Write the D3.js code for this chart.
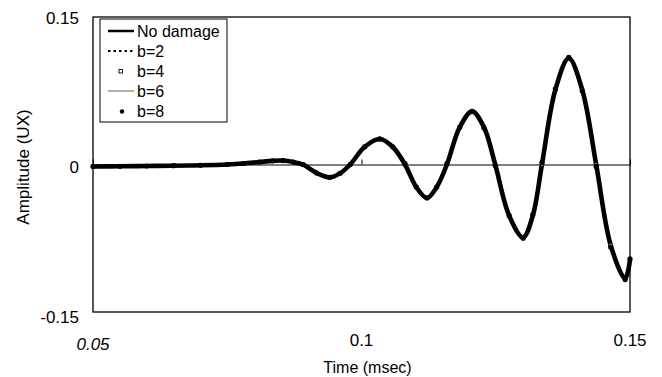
<!DOCTYPE html>
<html><head><meta charset="utf-8">
<script src="https://cdn.jsdelivr.net/npm/d3@7"></script>
<style>body{margin:0;background:#fff}svg{display:block}text{font-family:"Liberation Sans",Arial,sans-serif;fill:#000}</style>
</head><body><div id="chart"></div>
<script>
const times = [0.050,0.055,0.060,0.065,0.070,0.075,0.078,0.081,0.0835,0.0854,0.0873,0.0891,0.0916,0.0941,0.0960,0.0979,0.1006,0.1034,0.1058,0.1081,0.1102,0.1122,0.1140,0.1159,0.1183,0.1206,0.1228,0.1249,0.1275,0.1301,0.1319,0.1336,0.1361,0.1386,0.1411,0.1437,0.1464,0.1491,0.1500];
const noDamage = [-0.002,-0.0018,-0.0015,-0.0012,-0.0008,0.000,0.001,0.0025,0.0037,0.004,0.0025,0.000,-0.0085,-0.013,-0.009,0.000,0.018,0.026,0.018,0.000,-0.023,-0.034,-0.023,0.000,0.038,0.054,0.038,0.000,-0.052,-0.074,-0.052,0.000,0.076,0.108,0.076,0.000,-0.082,-0.116,-0.097];
const b2 = [-0.002,-0.0018,-0.0015,-0.0012,-0.0008,0.000,0.001,0.0025,0.0037,0.004,0.0025,0.000,-0.0085,-0.013,-0.009,0.000,0.018,0.026,0.018,0.000,-0.023,-0.034,-0.023,0.000,0.038,0.054,0.038,0.000,-0.052,-0.074,-0.052,0.000,0.076,0.108,0.076,0.000,-0.082,-0.116,-0.097];
const b4 = [-0.002,-0.0018,-0.0015,-0.0012,-0.0008,0.000,0.001,0.0025,0.0037,0.004,0.0025,0.000,-0.0085,-0.013,-0.009,0.000,0.018,0.026,0.018,0.000,-0.023,-0.034,-0.023,0.000,0.038,0.054,0.038,0.000,-0.052,-0.074,-0.052,0.000,0.076,0.108,0.076,0.000,-0.082,-0.116,-0.097];
const b6 = [-0.002,-0.0018,-0.0015,-0.0012,-0.0008,0.000,0.001,0.0025,0.0037,0.004,0.0025,0.000,-0.0085,-0.013,-0.009,0.000,0.018,0.026,0.018,0.000,-0.023,-0.034,-0.023,0.000,0.038,0.054,0.038,0.000,-0.052,-0.074,-0.052,0.000,0.076,0.108,0.076,0.000,-0.082,-0.116,-0.097];
const b8 = [-0.002,-0.0018,-0.0015,-0.0012,-0.0008,0.000,0.001,0.0025,0.0037,0.004,0.0025,0.000,-0.0085,-0.013,-0.009,0.000,0.018,0.026,0.018,0.001,-0.023,-0.034,-0.023,0.001,0.038,0.054,0.037,-0.001,-0.052,-0.075,-0.051,0.002,0.077,0.109,0.075,-0.002,-0.084,-0.117,-0.096];
const seriesNames = ["No damage","b=2","b=4","b=6","b=8"];
const xTicks = [0.05,0.1,0.15];
const xTickLabels = ["0.05","0.1","0.15"];
const yTicks = [-0.15,0,0.15];
const yTickLabels = ["-0.15","0","0.15"];

const W=662,H=377;
const m={left:93,right:32,top:17,bottom:65};
const svg=d3.select("#chart").append("svg").attr("width",W).attr("height",H);
const x=d3.scaleLinear().domain([0.05,0.15]).range([m.left,W-m.right]);
const y=d3.scaleLinear().domain([-0.15,0.15]).range([H-m.bottom,m.top]);

// zero line with upward ticks
const xAxis=d3.axisTop(x).tickValues(xTicks).tickSize(5).tickFormat("");
svg.append("g").attr("transform",`translate(0,${y(0)})`).call(xAxis)
  .call(g=>{g.select(".domain").attr("stroke","#000").attr("stroke-width",1);g.selectAll(".tick line").attr("stroke","#000");});

// plot border
svg.append("rect").attr("x",x(0.05)).attr("y",y(0.15)).attr("width",x(0.15)-x(0.05)).attr("height",y(-0.15)-y(0.15))
  .attr("fill","none").attr("stroke","#000").attr("stroke-width",1.3);

// y labels
svg.selectAll(".ylab").data(yTicks).enter().append("text")
  .attr("x",m.left-14).attr("y",(d,i)=>y(d)+[5,3,1][i]).attr("dy","0.35em").attr("text-anchor","end")
  .attr("font-size",17).text((d,i)=>yTickLabels[i]);
// x labels
svg.selectAll(".xlab").data(xTicks).enter().append("text")
  .attr("x",d=>x(d)).attr("y",(d,i)=>i===0?344:340).attr("dy","0.35em").attr("text-anchor","middle")
  .attr("font-size",17).attr("font-style",(d,i)=>i===0?"italic":"normal").text((d,i)=>xTickLabels[i]);
svg.append("text").attr("x",x(0.1)+6).attr("y",367).attr("dy","0.35em").attr("text-anchor","middle").attr("font-size",16).text("Time (msec)");
svg.append("text").attr("transform",`translate(23,167) rotate(-90)`).attr("dy","0.35em").attr("text-anchor","middle").attr("font-size",17).text("Amplitude (UX)");

const line=d3.line().x(d=>x(d[0])).y(d=>y(d[1])).curve(d3.curveCatmullRom.alpha(0.5));
const zip=v=>times.map((t,i)=>[t,v[i]]);

svg.append("path").datum(zip(b6)).attr("d",line).attr("fill","none").attr("stroke","#888").attr("stroke-width",1);
svg.append("path").datum(zip(noDamage)).attr("d",line).attr("fill","none").attr("stroke","#000").attr("stroke-width",4.6);
svg.append("path").datum(zip(b2)).attr("d",line).attr("fill","none").attr("stroke","#000").attr("stroke-width",2.4).attr("stroke-dasharray","3,2");
svg.append("g").selectAll("rect").data(zip(b4)).enter().append("rect")
  .attr("x",d=>x(d[0])-1.5).attr("y",d=>y(d[1])-1.5).attr("width",3).attr("height",3).attr("fill","#fff").attr("stroke","#000").attr("stroke-width",0.8);
svg.append("g").selectAll("circle").data(zip(b8)).enter().append("circle")
  .attr("cx",d=>x(d[0])).attr("cy",d=>y(d[1])).attr("r",2.6).attr("fill","#000");

// legend
const lg=svg.append("g");
lg.append("rect").attr("x",100).attr("y",19).attr("width",127).attr("height",103).attr("fill","#fff").attr("stroke","#000").attr("stroke-width",1);
const rows=[31,51,71,91,111];
seriesNames.forEach((n,i)=>{
  const yy=rows[i];
  if(i===0) lg.append("line").attr("x1",108).attr("x2",134).attr("y1",yy).attr("y2",yy).attr("stroke","#000").attr("stroke-width",2.5);
  if(i===1) lg.append("line").attr("x1",108).attr("x2",134).attr("y1",yy).attr("y2",yy).attr("stroke","#000").attr("stroke-width",2).attr("stroke-dasharray","2.5,3");
  if(i===2) lg.append("rect").attr("x",119).attr("y",yy-1.5).attr("width",3.5).attr("height",3.5).attr("fill","#fff").attr("stroke","#000").attr("stroke-width",0.9);
  if(i===3) lg.append("line").attr("x1",108).attr("x2",134).attr("y1",yy).attr("y2",yy).attr("stroke","#777").attr("stroke-width",1.2);
  if(i===4) lg.append("circle").attr("cx",122).attr("cy",yy+0.5).attr("r",2.2).attr("fill","#000");
  lg.append("text").attr("x",137).attr("y",yy).attr("dy","0.35em").attr("font-size",16).text(n);
});
</script></body></html>
